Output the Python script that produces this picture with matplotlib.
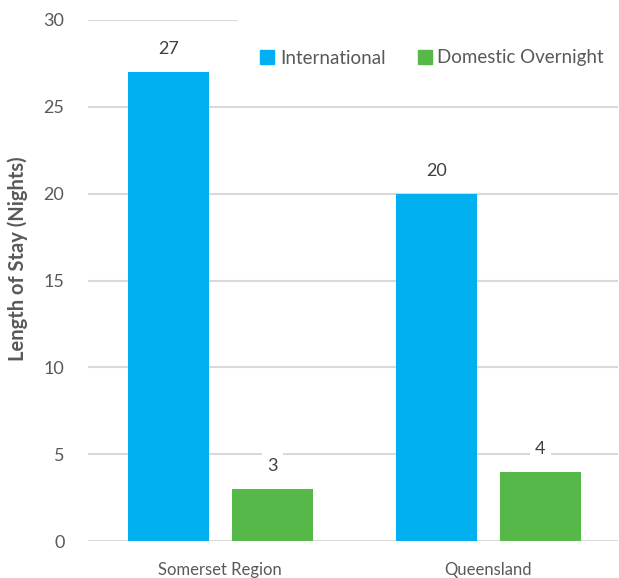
import numpy as np
import matplotlib.pyplot as plt
from matplotlib.patches import Patch, Rectangle

regions = ["Somerset Region", "Queensland"]
international = [27, 20]
domestic = [3, 4]
series_names = ["International", "Domestic Overnight"]
y_ticks = [0, 5, 10, 15, 20, 25, 30]

blue = "#00B0F0"
green = "#57B84A"
text_grey = "#595959"
grid_grey = "#D9D9D9"

plt.rcParams["font.family"] = ["Lato", "DejaVu Sans"]

W, H = 619, 578
fig = plt.figure(figsize=(W / 100, H / 100), dpi=100)
ax = fig.add_axes([88 / W, 37 / H, 530 / W, 521 / H])

x = np.arange(len(regions))
width = 0.302
offset = 0.194

bars_int = ax.bar(x - offset, international, width, color=blue, zorder=3)
bars_dom = ax.bar(x + offset, domestic, width, color=green, zorder=3)

# value labels sit on a white box so the gridlines break behind them
for bars, vals in [(bars_int, international), (bars_dom, domestic)]:
    for b, v in zip(bars, vals):
        ax.annotate(str(v), (b.get_x() + b.get_width() / 2, v),
                    xytext=(0, 23), textcoords="offset pixels",
                    ha="center", va="center", fontsize=13, color="#404040",
                    bbox=dict(boxstyle="square,pad=0.3", fc="white", ec="none"),
                    zorder=4)

ax.set_ylim(0, 30)
ax.set_xlim(-0.494, 1.484)
ax.set_yticks(y_ticks)
ax.set_xticks(x)
ax.set_xticklabels(regions)
ax.tick_params(axis="y", length=0, labelsize=13, colors=text_grey, pad=17)
ax.tick_params(axis="x", length=0, labelsize=12, colors=text_grey, pad=15)
ax.yaxis.grid(True, color=grid_grey, linewidth=1.5, zorder=0)
ax.set_axisbelow(True)
for s in ax.spines.values():
    s.set_visible(False)

ax.set_ylabel("Length of Stay (Nights)", fontsize=14.5, fontweight="bold",
              color=text_grey)
ax.yaxis.set_label_coords(-0.113, 0.541)

# white legend area hides the top gridline on the right
fig.add_artist(Rectangle((238 / W, (H - 30) / H), 381 / W, 20 / H,
                         transform=fig.transFigure, fc="white", ec="none",
                         zorder=5))

handles = [Patch(color=blue), Patch(color=green)]
leg = ax.legend(handles, series_names, loc="center right",
                bbox_to_anchor=(0.991, (541 - 58) / 521), ncol=2, frameon=False,
                fontsize=13.5, handlelength=0.75, handleheight=0.75,
                handletextpad=0.3, columnspacing=1.7, borderpad=0.0,
                labelcolor=text_grey)

fig.savefig("out.png", dpi=100)
